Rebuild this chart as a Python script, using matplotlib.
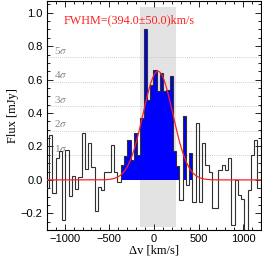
import numpy as np
import matplotlib
matplotlib.use("Agg")
import matplotlib.pyplot as plt
from matplotlib.ticker import MultipleLocator, FuncFormatter

# ---- data ----
chan_start = -1211.5      # left edge of first channel (km/s)
chan_width = 36.5         # channel width (km/s)
flux = [
    -0.05, 0.27, -0.08, 0.13, 0.17, -0.24, 0.18, -0.095, 0.026, -0.056,
    0.02, 0.28, 0.066, 0.22, 0.08, -0.185, -0.04, -0.06, 0.05, 0.05,
    0.21, 0.05, -0.01,
    # line channels
    0.09, 0.14, 0.24, 0.12, 0.28, 0.15, 0.37, 0.90, 0.48, 0.57,
    0.66, 0.53, 0.64, 0.53, 0.54, 0.62, 0.17, 0.085, -0.12, 0.38,
    -0.03, 0.16,
    # after line
    -0.13, 0.34, -0.13, 0.22, 0.09, 0.05, -0.17, -0.17, 0.06, 0.09,
    0.06, 0.13, -0.27, 0.00, -0.09, -0.115, -0.35, -0.06, 0.15, 0.24,
    -0.05,
]
line_vmin, line_vmax = -372.0, 432.0
band_vmin, band_vmax = -153.0, 246.0
band_fmin, band_fmax = -0.28, 1.035
rms = 0.147
sigma_levels = [1, 2, 3, 4, 5]
g_amp, g_cen, g_fwhm, g_fwhm_err = 0.65, 45.0, 394.0, 50.0

flux = np.array(flux)
edges = chan_start + chan_width * np.arange(len(flux) + 1)
centers = 0.5 * (edges[:-1] + edges[1:])

plt.rcParams['font.family'] = ['Liberation Sans', 'DejaVu Sans']
plt.rcParams['mathtext.fontset'] = 'stix'
fig = plt.figure(figsize=(2.62, 2.62), dpi=100)
ax = fig.add_axes([0.179, 0.122, 0.817, 0.874])

# grey band
ax.fill_between([band_vmin, band_vmax], band_fmin, band_fmax,
                color='#e3e3e3', lw=0, zorder=0)

# sigma lines
for n in sigma_levels:
    ax.axhline(n * rms, color='#bbbbbb', lw=0.6, ls=(0, (1, 1.5)), zorder=1)
    ax.text(-1125, n * rms + 0.008, f"{n}$\\sigma$", color='#888888',
            fontsize=8, family='Liberation Serif', va='bottom', ha='left', zorder=1)

# blue filled line channels
inline = (centers > line_vmin) & (centers < line_vmax)
fillvals = np.where(inline, np.clip(flux, 0, None), 0.0)
ax.stairs(fillvals, edges, baseline=0, fill=True, color='#0000ff', lw=0, zorder=2)

# spectrum outline
ax.stairs(flux, edges, baseline=None, color='#303030', lw=0.8, zorder=3)

# gaussian fit
vv = np.linspace(-1200, 1200, 1200)
sig = g_fwhm / (2 * np.sqrt(2 * np.log(2)))
ax.plot(vv, g_amp * np.exp(-0.5 * ((vv - g_cen) / sig) ** 2), color='#ff2020', lw=0.9, zorder=4)

ax.text(-1010, 0.955, f"FWHM=({g_fwhm:.1f}\u00b1{g_fwhm_err:.1f})km/s", color='#ff2020',
        fontsize=8.7, family='Liberation Serif', va='center', ha='left', zorder=5)

ax.set_xlim(-1200, 1200)
ax.set_ylim(-0.30, 1.07)
ax.xaxis.set_major_locator(MultipleLocator(500))
ax.xaxis.set_minor_locator(MultipleLocator(100))
ax.yaxis.set_major_locator(MultipleLocator(0.2))
ax.yaxis.set_minor_locator(MultipleLocator(0.05))
ax.tick_params(which='both', direction='in', top=True, right=True, labelsize=8, pad=3)
ax.tick_params(which='major', length=4, width=0.6)
ax.tick_params(which='minor', length=2, width=0.6)
for s in ax.spines.values():
    s.set_linewidth(0.8)
ax.set_xlabel("\u0394v [km/s]", fontsize=9, family='Liberation Serif', labelpad=0)
ax.set_ylabel("Flux [mJy]", fontsize=9, family='Liberation Serif', labelpad=1)
ax.yaxis.set_major_formatter(FuncFormatter(lambda y, p: f"{y:.1f}".replace('-', '\u2212')))
ax.xaxis.set_major_formatter(FuncFormatter(lambda x, p: f"{x:.0f}".replace('-', '\u2212')))

fig.savefig("out.png", dpi=100)
